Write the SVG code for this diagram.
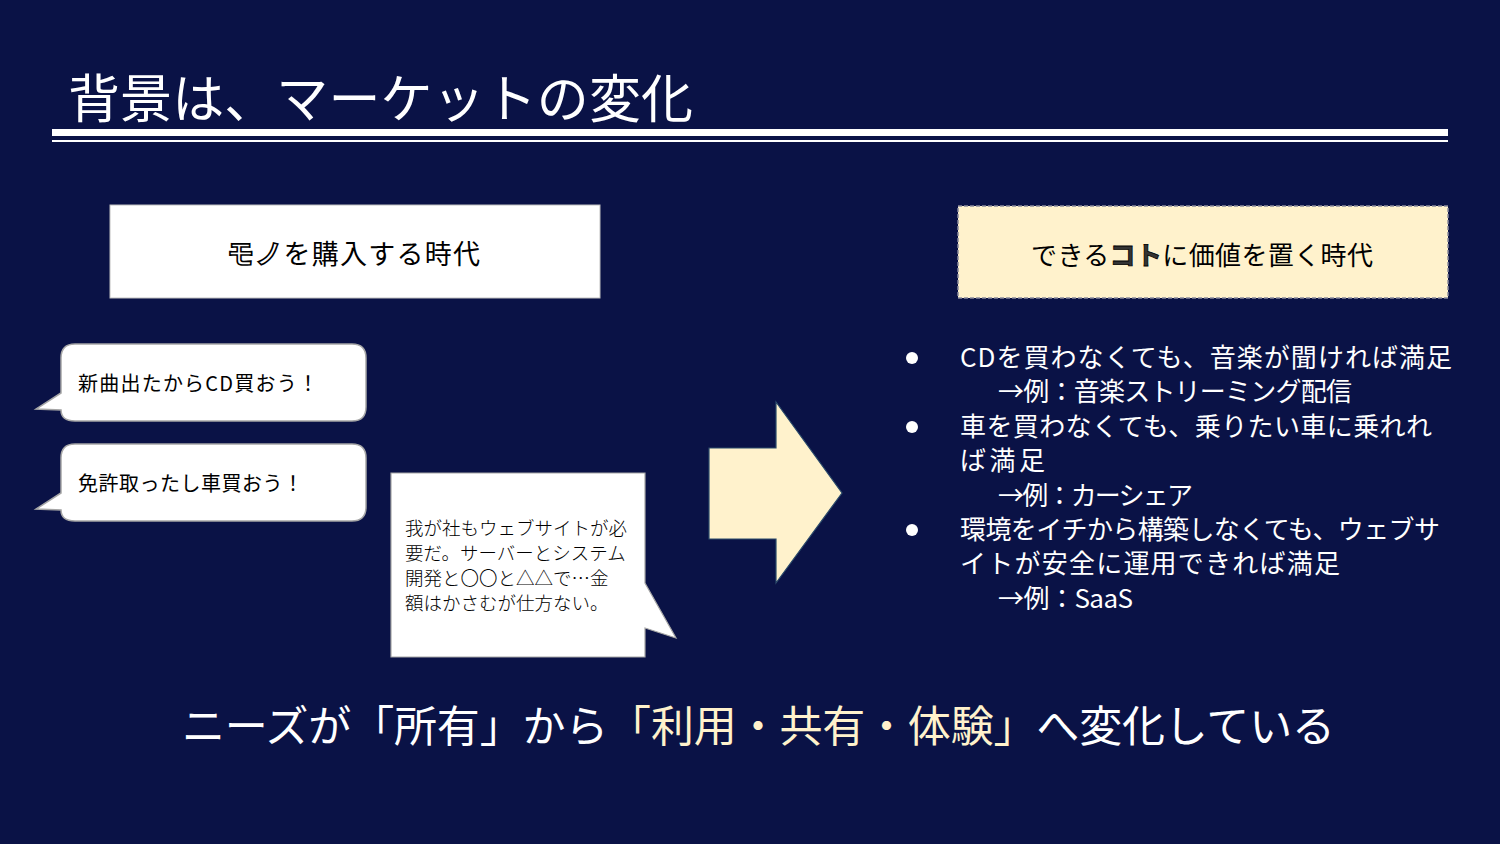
<svg xmlns="http://www.w3.org/2000/svg" width="1500" height="844" viewBox="0 0 1500 844">
<style>
text{font-family:"Noto Sans CJK JP","Liberation Sans",sans-serif;}
.w{fill:#ffffff;}
.k{fill:#000000;}
.cream{fill:#FFF2CC;}
.bubble{fill:#ffffff;stroke:#a6a6a6;stroke-width:1.5;}
.bl{font-size:26px;fill:#ffffff;}
</style>
<rect x="0" y="0" width="1500" height="844" fill="#0A1246"/>
<g id="title">
<text x="68" y="118" font-size="52" class="w" textLength="625" lengthAdjust="spacing">背景は、マーケットの変化</text>
<rect x="52" y="129" width="1396" height="7" fill="#ffffff"/>
<rect x="52" y="140" width="1396" height="2" fill="#ffffff"/>
</g>
<g id="box-mono">
<rect x="110" y="205" width="490" height="93" fill="#ffffff" stroke="#c0c0c0" stroke-width="1"/>
<text x="227" y="264" font-size="27" class="k" textLength="253" lengthAdjust="spacing"><tspan fill="#ffffff" stroke="#000" stroke-width="1.6" font-weight="bold">モノ</tspan>を購入する時代</text>
</g>
<g id="box-koto">
<rect x="958" y="206" width="490" height="92" fill="#FFF2CC" stroke="#8c8c9c" stroke-width="1.5" stroke-dasharray="4 2"/>
<text x="1031" y="265" font-size="26" class="k" textLength="342" lengthAdjust="spacing">できる<tspan font-weight="bold" fill="#333" stroke="#000" stroke-width="0.8">コト</tspan>に価値を置く時代</text>
</g>
<g id="bubble-cd">
<path class="bubble" d="M75 344 H352 Q366 344 366 358 V407 Q366 421 352 421 H75 Q61 421 61 410 L36 409 L61 393 V358 Q61 344 75 344 Z"/>
<text x="78" y="391" font-size="20" class="k" textLength="240" lengthAdjust="spacing">新曲出たからCD買おう！</text>
</g>
<g id="bubble-car">
<path class="bubble" d="M75 444 H352 Q366 444 366 458 V507 Q366 521 352 521 H75 Q61 521 61 510 L36 509 L61 493 V458 Q61 444 75 444 Z"/>
<text x="78" y="491" font-size="20" class="k" textLength="225" lengthAdjust="spacing">免許取ったし車買おう！</text>
</g>
<g id="callout-web">
<path d="M391 473 H645 V583 L676 638 L645 628 V657 H391 Z" fill="#ffffff" stroke="#a6a6a6" stroke-width="1.2"/>
<text font-size="18.5" class="k" font-weight="300">
<tspan x="405" y="535">我が社もウェブサイトが必</tspan>
<tspan x="405" y="560">要だ。サーバーとシステム</tspan>
<tspan x="405" y="585">開発と〇〇と△△で…金</tspan>
<tspan x="405" y="610">額はかさむが仕方ない。</tspan>
</text>
</g>
<g id="connectors">
<path d="M709 448 H776 V402 L842 493 L776 583 V539 H709 Z" fill="#FFF2CC" stroke="#2a4a6a" stroke-width="1.2"/>
</g>
<g id="bullets">
<circle cx="912" cy="358" r="6" fill="#ffffff"/>
<circle cx="912" cy="427" r="6" fill="#ffffff"/>
<circle cx="912" cy="530" r="6" fill="#ffffff"/>
<text class="bl" x="960" y="367" textLength="492" lengthAdjust="spacing">CDを買わなくても、音楽が聞ければ満足</text>
<text class="bl" x="998" y="401" textLength="354" lengthAdjust="spacing">→例：音楽ストリーミング配信</text>
<text class="bl" x="960" y="436" textLength="472" lengthAdjust="spacing">車を買わなくても、乗りたい車に乗れれ</text>
<text class="bl" x="960" y="470" textLength="85" lengthAdjust="spacing">ば満足</text>
<text class="bl" x="998" y="505" textLength="195" lengthAdjust="spacing">→例：カーシェア</text>
<text class="bl" x="960" y="539" textLength="480" lengthAdjust="spacing">環境をイチから構築しなくても、ウェブサ</text>
<text class="bl" x="960" y="573" textLength="380" lengthAdjust="spacing">イトが安全に運用できれば満足</text>
<text class="bl" x="998" y="608" textLength="135" lengthAdjust="spacing">→例：SaaS</text>
</g>
<g id="conclusion">
<text x="182" y="742" font-size="43" class="w" textLength="1153" lengthAdjust="spacing">ニーズが「所有」から<tspan class="cream">「利用・共有・体験」</tspan>へ変化している</text>
</g>
</svg>
